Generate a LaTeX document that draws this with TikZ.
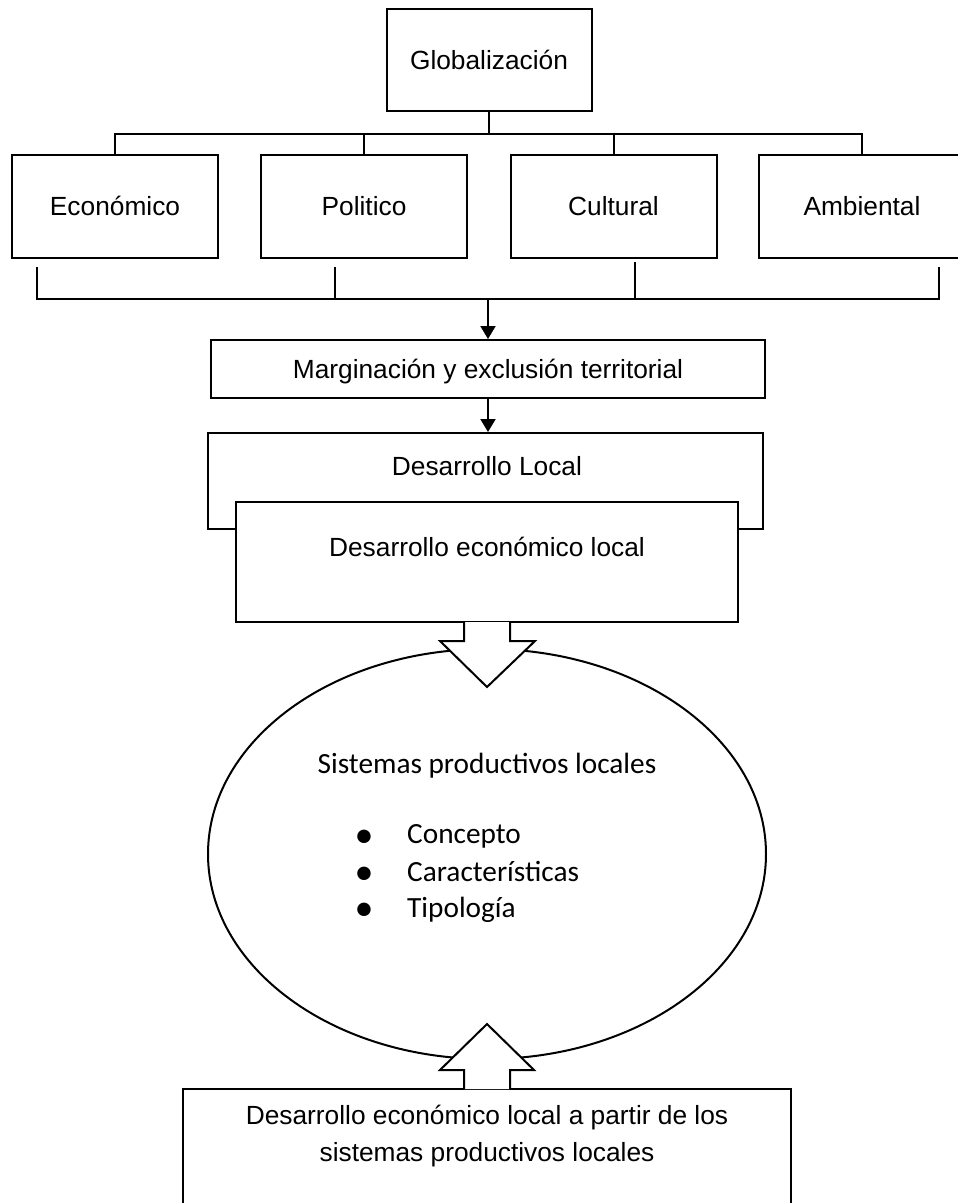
\documentclass[tikz,border=0pt]{standalone}
\usepackage{fontspec}
\setmainfont{Liberation Sans}
\newfontfamily\calibri{Carlito}
\usetikzlibrary{shapes.geometric,arrows.meta,calc}

\begin{document}
\begin{tikzpicture}[x=1pt, y=-1pt,
  caja/.style={shape=rectangle, draw=black, fill=white, line width=2pt, inner sep=0pt, text height=18.8pt, text depth=0pt, font=\fontsize{26.3}{31}\selectfont},
  texto/.style={inner sep=0pt, text height=18.8pt, text depth=0pt, font=\fontsize{26.3}{31}\selectfont},
  linea/.style={line width=2pt},
  corchete/.style={line width=2.5pt},
  flecha/.style={-{Triangle[length=13pt,width=15pt]}, line width=2pt},
  bloque/.style={draw=black, fill=white, line width=2pt, line join=miter},
  cal/.style={inner sep=0pt, anchor=base, font=\calibri\fontsize{29.3}{36}\selectfont},
  punto/.style={inner sep=0pt, anchor=base, text height=12pt, text depth=0pt, font=\calibri\fontsize{38}{36}\selectfont}]
\useasboundingbox (0,0) rectangle (958,1203);
\clip (0,0) rectangle (958,1203);
% top level
\node[caja, minimum width=205pt, minimum height=102pt] (G) at (489,60) {Globalización};
\node[caja, minimum width=206pt, minimum height=103pt] (E) at (115,206.5) {Económico};
\node[caja, minimum width=206pt, minimum height=103pt] (P) at (364,206.5) {Politico};
\node[caja, minimum width=206pt, minimum height=103pt] (C) at (613.5,206.5) {Cultural};
\node[caja, minimum width=206pt, minimum height=103pt] (A) at (862,206.5) {Ambiental};
\coordinate (barra) at (489,134);
\draw[linea] (G.south) -- (G.south |- barra);
\draw[linea] (E.north) -- (E.north |- barra) -- (A.north |- barra) -- (A.north);
\draw[linea] (P.north) -- (P.north |- barra);
\draw[linea] (C.north) -- (C.north |- barra);
% bracket under the four boxes
\coordinate (e1) at (37,267);
\coordinate (p1) at (335,267);
\coordinate (c1) at (635,262);
\coordinate (a1) at (939,267);
\coordinate (llave) at (488,299);
\draw[corchete] (e1) -- (e1 |- llave) -- (a1 |- llave) -- (a1);
\draw[corchete] (p1) -- (p1 |- llave);
\draw[corchete] (c1) -- (c1 |- llave);
% middle
\node[caja, minimum width=554pt, minimum height=58pt] (M) at (488,369) {Marginación y exclusión territorial};
\draw[flecha] (llave) -- (M.north);
\node[caja, minimum width=555pt, minimum height=96pt] (DL) at (485.5,481) {};
\node[texto] (DLt) at (487,466) {Desarrollo Local};
\draw[flecha] (M.south) -- (M.south |- DL.north);
\node[caja, minimum width=502pt, minimum height=120pt] (DEL) at (487,562) {};
\node[texto] (DELt) at (487,547) {Desarrollo económico local};
% ellipse
\node[shape=ellipse, draw=black, line width=2pt, minimum width=558pt, minimum height=410pt, inner sep=0pt] (SPL) at (487,854) {};
\node[cal] (SPLt) at (487,773) {Sistemas productivos locales};
\node[punto] (b1) at (364,847) {•};
\node[punto] (b2) at (364,884) {•};
\node[punto] (b3) at (364,920) {•};
\node[cal, anchor=base west] (i1) at (407,843) {Concepto};
\node[cal, anchor=base west] (i2) at (407,881) {Características};
\node[cal, anchor=base west] (i3) at (407,917) {Tipología};
% bottom box
\node[caja, minimum width=608pt, minimum height=140pt, anchor=north] (DSP) at (487,1088) {};
\node[texto, anchor=base] (DSPa) at (487,1124) {Desarrollo económico local a partir de los};
\node[texto, anchor=base] (DSPb) at (487,1161) {sistemas productivos locales};
% block arrows
\filldraw[bloque] ($(DEL.south)+(-23,-1)$) -- ++(0,19) -- ++(-24,0) -- ($(DEL.south)+(0,64)$) -- ($(DEL.south)+(48,18)$) -- ++(-25,0) -- ++(0,-19);
\filldraw[bloque] ($(DSP.north)+(-23,1)$) -- ++(0,-19) -- ++(-24,0) -- ($(DSP.north)+(0,-64)$) -- ($(DSP.north)+(47,-18)$) -- ++(-24,0) -- ++(0,19);
\end{tikzpicture}
\end{document}
